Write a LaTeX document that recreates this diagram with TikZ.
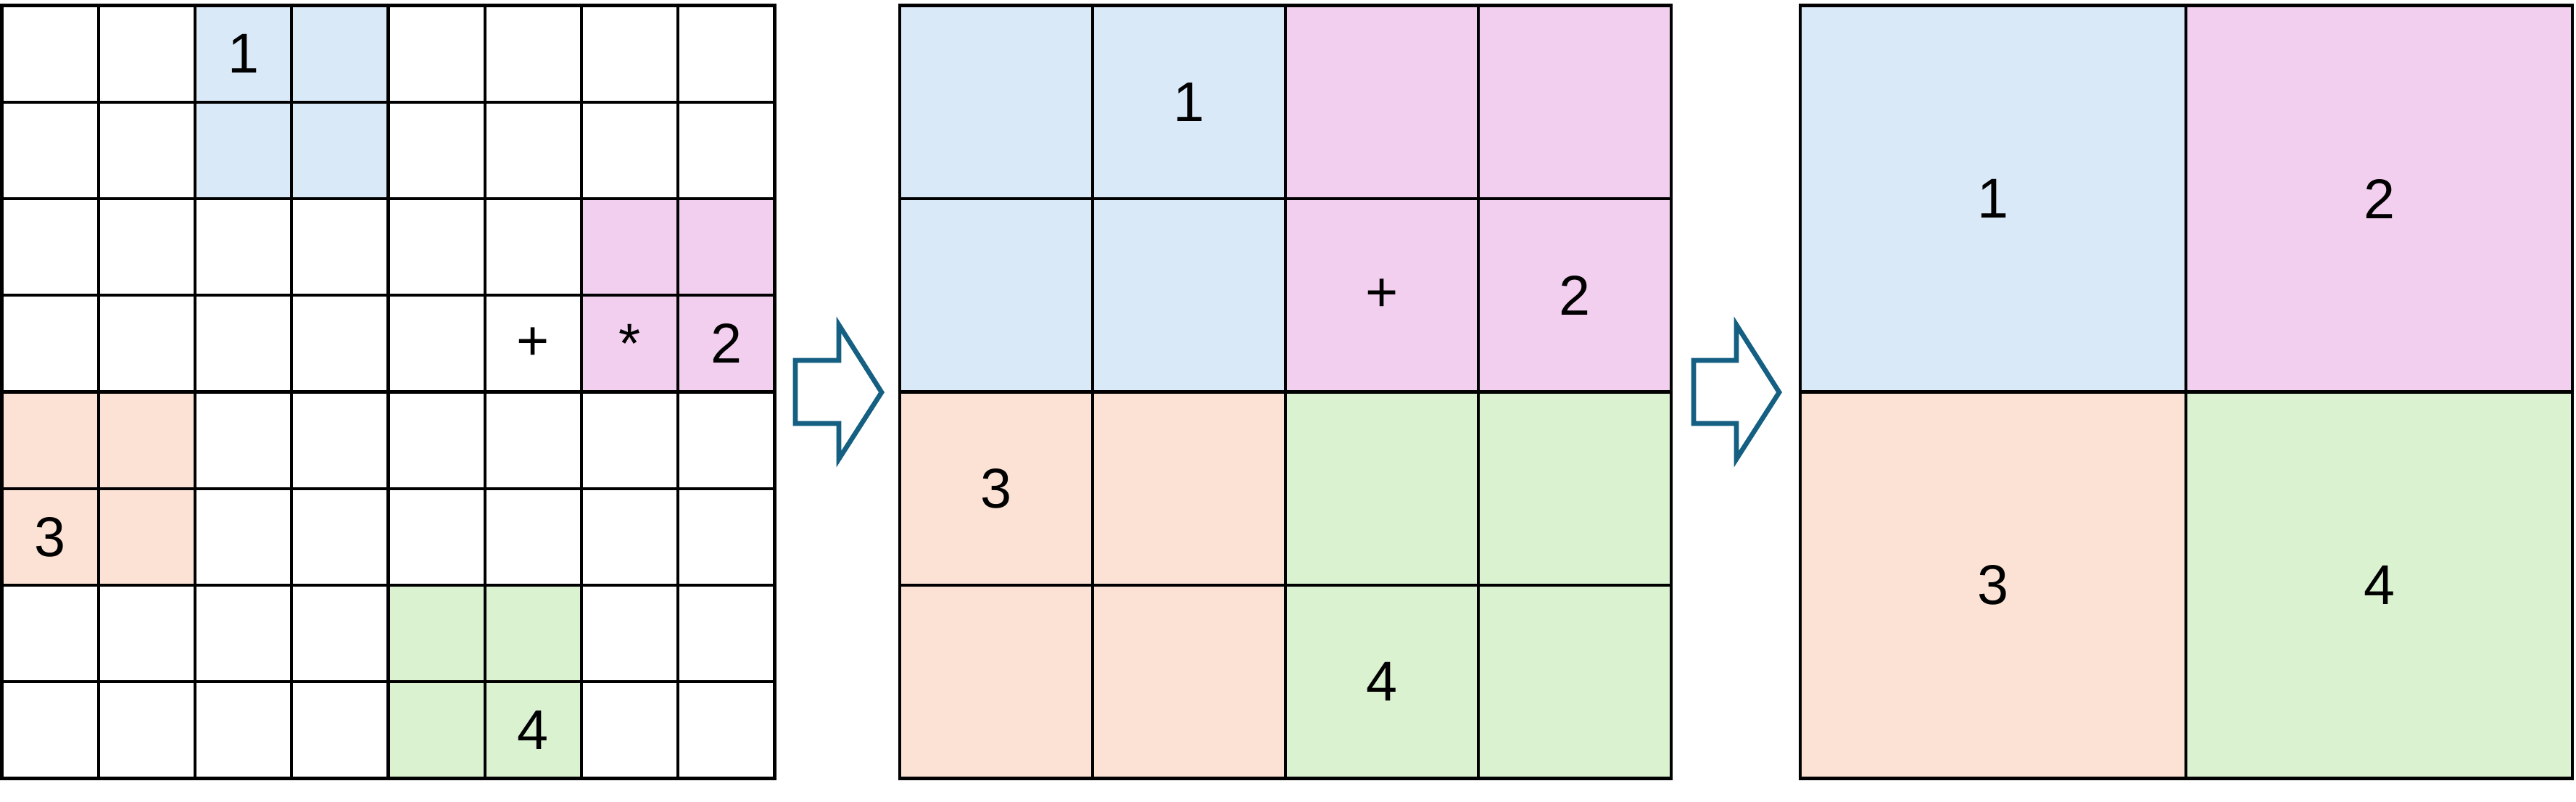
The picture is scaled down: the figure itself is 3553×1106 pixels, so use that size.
\documentclass[tikz,border=0pt]{standalone}
\usepackage{fontspec}
\setmainfont{Liberation Sans}
\definecolor{cblue}{HTML}{DAE9F8}
\definecolor{cpink}{HTML}{F2CEEF}
\definecolor{cpeach}{HTML}{FBE2D5}
\definecolor{cgreen}{HTML}{DAF2D0}
\definecolor{carrow}{HTML}{156082}
\begin{document}
\begin{tikzpicture}[x=0.01cm,y=-0.01cm,
  gridline/.style={draw=black,line width=1.2pt},
  cellL/.style={gridline,minimum width=1.3325cm,minimum height=1.3325cm,inner sep=0pt,outer sep=0pt},
  cellM/.style={gridline,minimum width=2.66cm,minimum height=2.6625cm,inner sep=0pt,outer sep=0pt},
  cellR/.style={gridline,minimum width=5.325cm,minimum height=5.325cm,inner sep=0pt,outer sep=0pt},
  lbl/.style={font=\fontsize{22}{26}\selectfont,inner sep=0pt},
  bigarrow/.style={draw=carrow,fill=white,line width=1.9pt,line join=miter}]
\useasboundingbox (0,0) rectangle (3553,1106);
% ---------- left grid fills ----------
\fill[cblue]  (269.0,7.5) rectangle (535.5,274.0);
\fill[cpink]  (802.0,274.0) rectangle (1068.5,540.5);
\fill[cpeach] (2.5,540.5) rectangle (269.0,807.0);
\fill[cgreen] (535.5,807.0) rectangle (802.0,1073.5);
\foreach \r in {0,...,7}{
  \foreach \c in {0,...,7}{
    \node[cellL] (L\r\c) at ({2.5+(\c+0.5)*133.25},{7.5+(\r+0.5)*133.25}) {};
  }
}
\node[lbl] (l1) at (L02) {1};
\node[lbl] (lplus) at (L35) {+};
\node[lbl] (lstar) at (L36) {*};
\node[lbl] (l2) at (L37) {2};
\node[lbl] (l3) at (L50) {3};
\node[lbl] (l4) at (L75) {4};
% ---------- middle grid ----------
\fill[cblue]  (1241,7.5) rectangle (1773,540.5);
\fill[cpink]  (1773,7.5) rectangle (2305,540.5);
\fill[cpeach] (1241,540.5) rectangle (1773,1073.5);
\fill[cgreen] (1773,540.5) rectangle (2305,1073.5);
\foreach \r in {0,...,3}{
  \foreach \c in {0,...,3}{
    \node[cellM] (M\r\c) at ({1241+(\c+0.5)*266},{7.5+(\r+0.5)*266.5}) {};
  }
}
\node[lbl] (m1) at (M01) {1};
\node[lbl] (mplus) at (M12) {+};
\node[lbl] (m2) at (M13) {2};
\node[lbl] (m3) at (M20) {3};
\node[lbl] (m4) at (M32) {4};
% ---------- right grid ----------
\node[cellR,fill=cblue]  (R00) at ({2483+0.5*532.5},{7.5+0.5*533}) {};
\node[cellR,fill=cpink]  (R01) at ({2483+1.5*532.5},{7.5+0.5*533}) {};
\node[cellR,fill=cpeach] (R10) at ({2483+0.5*532.5},{7.5+1.5*533}) {};
\node[cellR,fill=cgreen] (R11) at ({2483+1.5*532.5},{7.5+1.5*533}) {};
\node[lbl] (r1) at (R00) {1};
\node[lbl] (r2) at (R01) {2};
\node[lbl] (r3) at (R10) {3};
\node[lbl] (r4) at (R11) {4};
% ---------- arrows ----------
\draw[bigarrow] (1097,497) -- (1157,497) -- (1157,448) -- (1216,541) -- (1157,633) -- (1157,584) -- (1097,584) -- cycle;
\draw[bigarrow] (2336,497) -- (2395,497) -- (2395,448) -- (2454,541) -- (2395,633) -- (2395,584) -- (2336,584) -- cycle;
\end{tikzpicture}
\end{document}
